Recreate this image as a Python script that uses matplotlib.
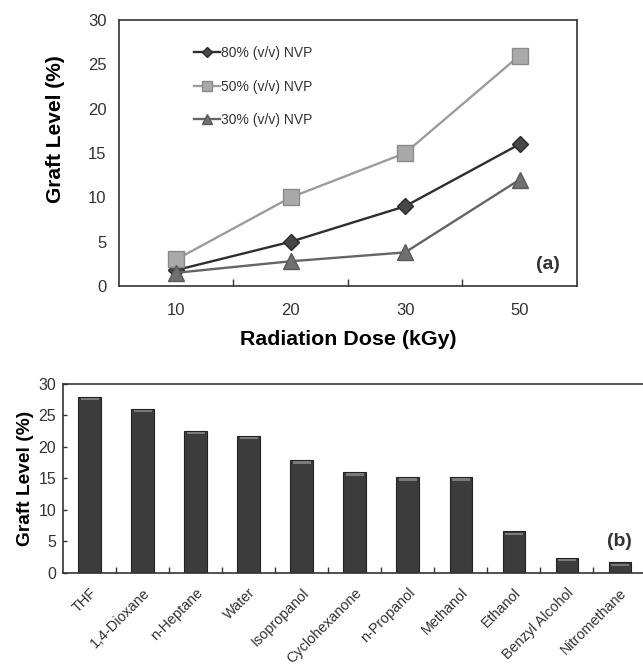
import matplotlib
matplotlib.use('Agg')
import matplotlib.pyplot as plt
import numpy as np

plt.rcParams['font.family'] = ['Liberation Sans', 'DejaVu Sans']

# (a) graft level against radiation dose for three monomer concentrations
doses = ['10', '20', '30', '50']
nvp_80 = [1.8, 5.0, 9.0, 16.0]
nvp_50 = [3.0, 10.0, 15.0, 26.0]
nvp_30 = [1.5, 2.8, 3.8, 12.0]

# (b) graft level in different solvents
solvents = ['THF', '1,4-Dioxane', 'n-Heptane', 'Water', 'Isopropanol', 'Cyclohexanone',
            'n-Propanol', 'Methanol', 'Ethanol', 'Benzyl Alcohol', 'Nitromethane']
solvent_graft = [28.0, 26.1, 22.6, 21.8, 17.9, 16.0, 15.2, 15.2, 6.6, 2.4, 1.7]

text_color = '#333333'
spine_color = '#333333'


def style_axes(ax):
    for spine in ax.spines.values():
        spine.set_color(spine_color)
        spine.set_linewidth(1.2)
    ax.tick_params(direction='in', length=4, width=1.0, color=spine_color,
                   labelcolor=text_color)


fig = plt.figure(figsize=(6.43, 6.70), dpi=100)

# top panel
ax1 = fig.add_axes([0.185, 0.573, 0.712, 0.397])
x = np.arange(len(doses))
series = [
    (nvp_80, '80% (v/v) NVP', 'D', '#2e2e2e', '#474747', '#2a2a2a', 8.5),
    (nvp_50, '50% (v/v) NVP', 's', '#9c9c9c', '#a9a9a9', '#8a8a8a', 11),
    (nvp_30, '30% (v/v) NVP', '^', '#656565', '#707070', '#5a5a5a', 11),
]
for values, label, marker, lc, fc, ec, ms in series:
    ax1.plot(x, values, color=lc, linewidth=1.7, marker=marker, markersize=ms,
             markerfacecolor=fc, markeredgecolor=ec, markeredgewidth=1.0, label=label)

ax1.set_xlim(-0.5, len(doses) - 0.5)
ax1.set_ylim(0, 30)
ax1.set_yticks(np.arange(0, 31, 5))
ax1.set_xticks(x)
ax1.set_xticklabels(doses)
ax1.set_xticks(x[:-1] + 0.5, minor=True)
style_axes(ax1)
ax1.tick_params(axis='x', which='major', length=0, pad=12, labelsize=12)
ax1.tick_params(axis='x', which='minor', direction='in', length=5, width=1.0, color=spine_color)
ax1.tick_params(axis='y', length=0, pad=9, labelsize=12)
ax1.set_xlabel('Radiation Dose (kGy)', fontsize=15.4, fontweight='bold', labelpad=9)
ax1.set_ylabel('Graft Level (%)', fontsize=15, fontweight='bold')
ax1.yaxis.set_label_coords(-0.118, 0.59)
leg = ax1.legend(loc='upper left', bbox_to_anchor=(0.137, 0.95), frameon=False,
                 fontsize=10, handlelength=1.85, handletextpad=0.1,
                 labelspacing=1.42, markerscale=0.6)
for t in leg.get_texts():
    t.set_color(text_color)
ax1.text(0.938, 0.08, '(a)', transform=ax1.transAxes, fontsize=14,
         fontweight='bold', color=text_color, ha='center', va='center')

# bottom panel
ax2 = fig.add_axes([0.098, 0.1448, 0.907, 0.2821])
xb = np.arange(len(solvents))
ax2.bar(xb, solvent_graft, width=0.42, color='#3c3c3c', edgecolor='#222222', linewidth=0.8)
# light rim along the top of each bar
ax2.bar(xb, [0.35] * len(xb), bottom=np.array(solvent_graft) - 0.55, width=0.34,
        color='#8a8a8a', linewidth=0, alpha=0.8)
ax2.set_xlim(-0.5, len(solvents) - 0.5)
ax2.set_ylim(0, 30)
ax2.set_yticks(np.arange(0, 31, 5))
ax2.set_xticks(xb)
ax2.set_xticklabels(solvents, rotation=45, ha='right', rotation_mode='anchor', fontsize=10.4)
ax2.set_xticks(xb[:-1] + 0.5, minor=True)
style_axes(ax2)
ax2.tick_params(axis='x', which='major', length=0, pad=9)
ax2.tick_params(axis='x', which='minor', direction='in', length=4, width=1.0, color=spine_color)
ax2.tick_params(axis='y', length=3, pad=5, labelsize=11.5)
ax2.set_ylabel('Graft Level (%)', fontsize=13.8, fontweight='bold', labelpad=3)
ax2.text(len(solvents) - 1, 5.0, '(b)', fontsize=14, fontweight='bold',
         color=text_color, ha='center', va='center')

fig.savefig('out.png', dpi=100, facecolor='white')
